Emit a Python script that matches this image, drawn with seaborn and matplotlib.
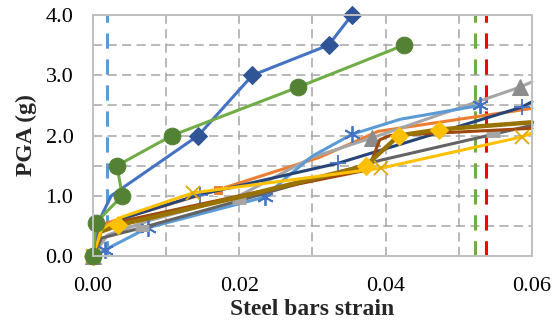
import numpy as np
import pandas as pd
import seaborn as sns
import matplotlib.pyplot as plt
from matplotlib.ticker import MultipleLocator, FuncFormatter

# series: (strain, PGA)
blue_x = [0, 0.0005, 0.0025, 0.0144, 0.0218, 0.0322, 0.0354]
blue_y = [0, 0.5, 1.0, 2.0, 3.0, 3.5, 4.0]

green_x = [0, 0.0004, 0.0040, 0.0033, 0.0108, 0.0280, 0.0425]
green_y = [0, 0.55, 1.0, 1.5, 2.0, 2.8, 3.5]

ltblue_x = [0, 0.0016, 0.0075, 0.0235, 0.0265, 0.0300, 0.0354, 0.0420, 0.0529]
ltblue_y = [0, 0.10, 0.47, 0.98, 1.31, 1.66, 2.02, 2.27, 2.5]

orange_x = [0, 0.0005, 0.0171, 0.0310, 0.0390, 0.0600]
orange_y = [0, 0.5, 1.1, 1.64, 2.07, 2.45]

gray_x = [0, 0.0020, 0.0080, 0.0200, 0.0300, 0.0381, 0.0583, 0.0600]
gray_y = [0, 0.35, 0.60, 1.0, 1.64, 1.96, 2.8, 2.89]

dkgray_x = [0, 0.0012, 0.0067, 0.0200, 0.0393, 0.0547, 0.0600]
dkgray_y = [0, 0.30, 0.47, 0.92, 1.59, 2.02, 2.17]

navy_x = [0, 0.0012, 0.0040, 0.0146, 0.0335, 0.0586, 0.0600]
navy_y = [0, 0.45, 0.62, 1.02, 1.54, 2.47, 2.56]

brown_x = [0, 0.0008, 0.0040, 0.0200, 0.0376, 0.0392, 0.0406, 0.0600]
brown_y = [0, 0.45, 0.58, 1.0, 1.43, 1.93, 2.0, 2.12]

olive_x = [0, 0.0010, 0.0034, 0.0200, 0.0373, 0.0418, 0.0473, 0.0600]
olive_y = [0, 0.40, 0.51, 0.98, 1.5, 2.0, 2.1, 2.22]

yellow_x = [0, 0.0012, 0.0040, 0.0137, 0.0394, 0.0587, 0.0600]
yellow_y = [0, 0.45, 0.65, 1.05, 1.46, 1.98, 2.04]

# vertical limit lines
limit_x = [0.0019, 0.0522, 0.0537]
limit_colors = ['#5B9BD5', '#70AD47', '#FF0000']

sns.set_style('white')
plt.rcParams['font.family'] = ['Liberation Serif', 'DejaVu Serif']

fig = plt.figure(figsize=(5.53, 3.33), dpi=100)
ax = fig.add_axes([0.168, 0.231, 0.794, 0.724])

asterisk = (6, 2, 0)
series = [
    (orange_x, orange_y, dict(color='#ED7D31', marker='s', markersize=7, markevery=[0, 2])),
    (gray_x, gray_y, dict(color='#A5A5A5', marker='^', markersize=11, markevery=[0, 5, 6],
                          mfc='#8C8C8C', mec='#8C8C8C')),
    (ltblue_x, ltblue_y, dict(color='#5B9BD5', marker=asterisk, markersize=12, mew=1.3,
                              mec='#4472C4', markevery=[0, 1, 2, 3, 6, 8])),
    (dkgray_x, dkgray_y, dict(color='#636363', marker='_', markersize=10, mew=5,
                              mec='#A5A5A5', markevery=[2, 3, 5])),
    (navy_x, navy_y, dict(color='#264478', marker='+', markersize=12, mew=1.3,
                          mec='#4472C4', markevery=[0, 3, 4, 5])),
    (brown_x, brown_y, dict(color='#9E480E')),
    (olive_x, olive_y, dict(color='#997300', lw=3.2, marker='D', markersize=9,
                            mfc='#FFC000', mec='#FFC000', markevery=[0, 2, 4, 5, 6])),
    (yellow_x, yellow_y, dict(color='#FFC000', marker='x', markersize=10, mew=1.3,
                              mec='#E0A800', markevery=[0, 3, 4, 5])),
    (blue_x, blue_y, dict(color='#4472C4', marker='D', markersize=9,
                          mfc='#2F5597', mec='#2F5597', markevery=[3, 4, 5, 6])),
    (green_x, green_y, dict(color='#70AD47', marker='o', markersize=12,
                            mfc='#548235', mec='#548235')),
]

for xs, ys, kw in series:
    kw.setdefault('lw', 2.2)
    sns.lineplot(x=xs, y=ys, sort=False, estimator=None, ax=ax, clip_on=False, **kw)

for xv, c in zip(limit_x, limit_colors):
    ax.axvline(xv, color=c, lw=2.2, linestyle=(0, (5, 3.5)), zorder=1)

ax.set_xlim(0, 0.06)
ax.set_ylim(0, 4.0)
ax.xaxis.set_major_locator(MultipleLocator(0.01))
ax.yaxis.set_major_locator(MultipleLocator(0.5))
ax.xaxis.set_major_formatter(FuncFormatter(
    lambda v, p: f'{v:.2f}' if round(v / 0.01) % 2 == 0 else ''))
ax.yaxis.set_major_formatter(FuncFormatter(
    lambda v, p: f'{v:.1f}' if round(v / 0.5) % 2 == 0 else ''))

ax.grid(True, color='#A6A6A6', lw=1.1, linestyle=(0, (6, 3.5)))
ax.set_axisbelow(True)
for s in ax.spines.values():
    s.set_color('#BFBFBF')
    s.set_linewidth(1.4)
ax.tick_params(axis='both', direction='out', length=5, width=1.2, color='#BFBFBF',
               labelsize=16, colors='#BFBFBF', labelcolor='black')
ax.tick_params(axis='y', pad=9)
ax.tick_params(axis='x', pad=10)

ax.set_xlabel('Steel bars strain', fontsize=17, fontweight='bold', labelpad=2)
ax.set_ylabel('PGA (g)', fontsize=17, fontweight='bold', labelpad=6)

fig.savefig('out.png', dpi=100)
